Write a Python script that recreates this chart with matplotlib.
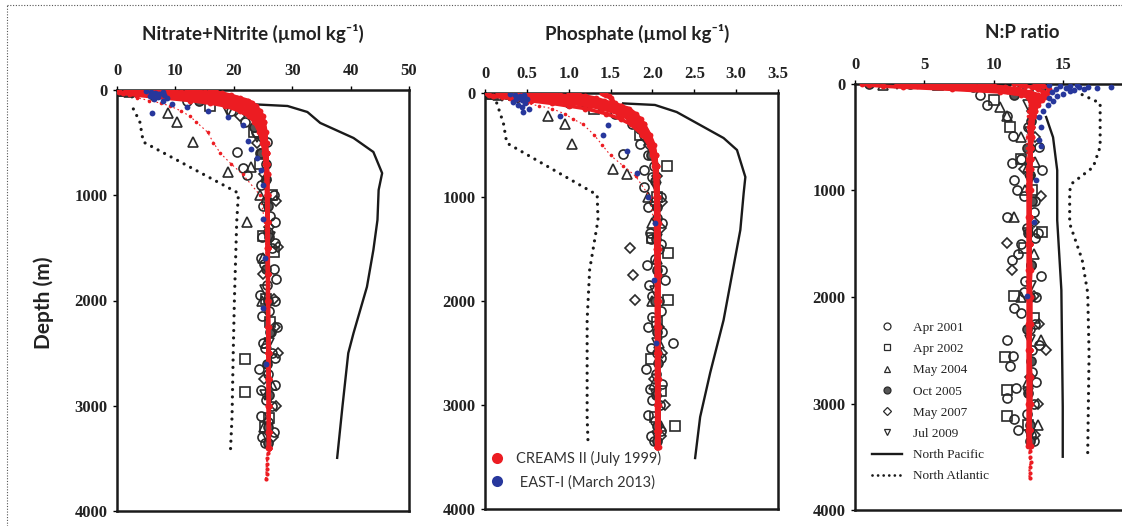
import numpy as np
import matplotlib.pyplot as plt
from matplotlib.lines import Line2D

# ---------------- data ----------------
# CREAMS II (July 1999) casts, sampled on a common depth grid
CR_DEPTH = [0, 10, 20, 30, 50, 75, 100, 125, 150, 200, 250, 300, 400, 500, 600,
            700, 800, 1000, 1250, 1500, 1750, 2000, 2250, 2500, 2750, 3000, 3250, 3400]
TAIL_DEPTH = [3450, 3500, 3550, 3600, 3650, 3700]

no3_casts = [
    [0.1, 0.2, 0.4, 1.0, 3.5, 8.0, 12.5, 16.0, 18.5, 21.0, 22.6, 23.5, 24.4, 24.9, 25.2,
     25.4, 25.5, 25.6, 25.7, 25.7, 25.8, 25.8, 25.8, 25.9, 25.9, 25.9, 25.9, 25.9],
    [1.5, 2.0, 3.0, 4.5, 7.5, 11.5, 15.0, 18.0, 20.0, 22.2, 23.4, 24.1, 24.8, 25.2, 25.4,
     25.5, 25.6, 25.7, 25.7, 25.8, 25.8, 25.8, 25.9, 25.9, 25.9, 25.9, 26.0, 26.0],
    [4.0, 5.0, 7.0, 9.5, 13.5, 17.0, 19.5, 21.0, 22.2, 23.4, 24.2, 24.7, 25.2, 25.4, 25.5,
     25.6, 25.7, 25.7, 25.8, 25.8, 25.8, 25.9, 25.9, 25.9, 26.0, 26.0, 26.0, 26.0],
    [8.0, 9.0, 11.0, 13.0, 16.0, 19.0, 21.0, 22.3, 23.0, 24.0, 24.6, 25.0, 25.3, 25.5, 25.6,
     25.7, 25.7, 25.8, 25.8, 25.8, 25.9, 25.9, 25.9, 26.0, 26.0, 26.0, 26.0, 26.0],
    [12.0, 13.5, 15.0, 16.5, 18.5, 20.5, 22.0, 23.0, 23.6, 24.3, 24.8, 25.1, 25.4, 25.5, 25.6,
     25.7, 25.8, 25.8, 25.8, 25.9, 25.9, 25.9, 25.9, 26.0, 26.0, 26.1, 26.0, 26.0],
    [16.0, 16.5, 17.0, 18.0, 19.5, 21.0, 22.5, 23.2, 23.8, 24.5, 25.0, 25.2, 25.5, 25.6, 25.7,
     25.7, 25.8, 25.8, 25.9, 25.9, 25.9, 25.9, 26.0, 26.0, 26.0, 26.0, 26.1, 26.1],
    [6.0, 7.0, 9.0, 11.5, 15.0, 18.0, 20.5, 21.8, 22.7, 23.8, 24.5, 24.9, 25.3, 25.5, 25.6,
     25.7, 25.7, 25.8, 25.8, 25.8, 25.9, 25.9, 25.9, 25.9, 26.0, 26.0, 26.0, 26.0],
    [2.5, 3.0, 4.5, 6.5, 10.0, 14.0, 17.5, 19.5, 21.0, 22.8, 23.8, 24.4, 25.0, 25.3, 25.5,
     25.6, 25.7, 25.7, 25.8, 25.8, 25.8, 25.9, 25.9, 25.9, 25.9, 26.0, 26.0, 26.0],
]
no3_low = [0.3, 0.5, 0.8, 1.2, 2.0, 3.5, 5.5, 7.5, 9.0, 11.0, 12.5, 13.5, 15.5, 16.5, 17.7,
           19.5, 21.5, 24.5, 25.3, 25.5, 25.6, 25.7, 25.7, 25.8, 25.8, 25.8, 25.9, 25.9]
no3_tail = [25.8, 25.7, 25.7, 25.6, 25.6, 25.5]

po4_casts = [
    [0.02, 0.03, 0.05, 0.10, 0.30, 0.55, 0.80, 1.00, 1.20, 1.45, 1.62, 1.74, 1.88, 1.96, 2.00,
     2.02, 2.03, 2.04, 2.04, 2.04, 2.05, 2.05, 2.05, 2.05, 2.05, 2.05, 2.05, 2.05],
    [0.15, 0.20, 0.25, 0.35, 0.55, 0.80, 1.05, 1.25, 1.40, 1.60, 1.72, 1.80, 1.92, 1.98, 2.01,
     2.03, 2.04, 2.04, 2.04, 2.05, 2.05, 2.05, 2.05, 2.05, 2.05, 2.06, 2.06, 2.06],
    [0.35, 0.40, 0.50, 0.65, 0.90, 1.15, 1.30, 1.45, 1.55, 1.70, 1.80, 1.86, 1.95, 2.00, 2.03,
     2.04, 2.05, 2.05, 2.05, 2.05, 2.06, 2.06, 2.06, 2.06, 2.06, 2.06, 2.06, 2.06],
    [0.70, 0.80, 0.90, 1.00, 1.15, 1.30, 1.45, 1.58, 1.66, 1.77, 1.85, 1.90, 1.97, 2.02, 2.04,
     2.05, 2.06, 2.06, 2.06, 2.06, 2.07, 2.07, 2.07, 2.07, 2.07, 2.07, 2.07, 2.07],
    [1.00, 1.05, 1.12, 1.20, 1.32, 1.42, 1.52, 1.62, 1.70, 1.78, 1.84, 1.88, 1.95, 2.00, 2.03,
     2.05, 2.06, 2.07, 2.07, 2.07, 2.07, 2.07, 2.07, 2.07, 2.07, 2.07, 2.07, 2.07],
    [1.40, 1.42, 1.45, 1.48, 1.50, 1.52, 1.55, 1.63, 1.72, 1.80, 1.86, 1.90, 1.96, 2.01, 2.04,
     2.05, 2.06, 2.07, 2.08, 2.08, 2.08, 2.08, 2.08, 2.08, 2.08, 2.08, 2.08, 2.08],
    [0.55, 0.60, 0.70, 0.82, 1.02, 1.22, 1.38, 1.52, 1.61, 1.74, 1.83, 1.88, 1.96, 2.01, 2.03,
     2.04, 2.05, 2.05, 2.06, 2.06, 2.06, 2.06, 2.06, 2.06, 2.06, 2.06, 2.06, 2.06],
    [0.25, 0.30, 0.38, 0.50, 0.72, 0.98, 1.18, 1.35, 1.48, 1.66, 1.77, 1.84, 1.94, 1.99, 2.02,
     2.03, 2.04, 2.04, 2.05, 2.05, 2.05, 2.05, 2.05, 2.06, 2.06, 2.06, 2.06, 2.06],
]
po4_low = [0.03, 0.05, 0.08, 0.12, 0.20, 0.35, 0.50, 0.65, 0.80, 0.95, 1.05, 1.17, 1.30, 1.40, 1.50,
           1.65, 1.80, 1.97, 2.02, 2.03, 2.04, 2.04, 2.05, 2.05, 2.05, 2.05, 2.05, 2.05]

np_casts = [
    [0.5, 1.0, 2.0, 3.5, 7.0, 10.5, 12.0, 12.5, 12.6, 12.7, 12.7, 12.7, 12.6, 12.6, 12.6,
     12.6, 12.6, 12.6, 12.6, 12.6, 12.6, 12.6, 12.6, 12.6, 12.6, 12.6, 12.6, 12.6],
    [3.0, 4.0, 5.5, 7.0, 9.5, 11.5, 12.4, 12.7, 12.8, 12.8, 12.8, 12.7, 12.7, 12.7, 12.7,
     12.7, 12.6, 12.6, 12.6, 12.6, 12.6, 12.7, 12.7, 12.6, 12.6, 12.6, 12.6, 12.7],
    [6.0, 7.0, 8.0, 9.0, 10.5, 12.0, 12.8, 13.0, 13.0, 12.9, 12.9, 12.8, 12.8, 12.7, 12.7,
     12.7, 12.7, 12.7, 12.6, 12.6, 12.6, 12.6, 12.6, 12.6, 12.7, 12.7, 12.6, 12.6],
    [9.0, 9.5, 10.0, 10.8, 11.8, 12.6, 13.2, 13.4, 13.3, 13.1, 13.0, 12.9, 12.8, 12.8, 12.7,
     12.7, 12.7, 12.6, 12.6, 12.6, 12.7, 12.6, 12.6, 12.6, 12.6, 12.6, 12.6, 12.6],
    [11.5, 12.0, 12.3, 12.8, 13.2, 13.6, 13.8, 13.7, 13.5, 13.2, 13.0, 12.9, 12.8, 12.8, 12.7,
     12.7, 12.6, 12.6, 12.6, 12.6, 12.6, 12.6, 12.6, 12.6, 12.6, 12.6, 12.6, 12.6],
    [13.0, 13.3, 13.6, 13.9, 14.0, 13.9, 13.6, 13.4, 13.2, 13.0, 12.9, 12.8, 12.7, 12.7, 12.6,
     12.6, 12.5, 12.5, 12.5, 12.5, 12.5, 12.5, 12.5, 12.5, 12.5, 12.5, 12.5, 12.5],
    [4.5, 5.5, 6.5, 8.0, 10.0, 11.8, 12.6, 12.9, 12.9, 12.8, 12.8, 12.7, 12.7, 12.7, 12.6,
     12.6, 12.6, 12.6, 12.6, 12.6, 12.6, 12.6, 12.6, 12.6, 12.6, 12.6, 12.6, 12.6],
    [7.5, 8.2, 9.0, 10.0, 11.2, 12.3, 13.0, 13.2, 13.1, 13.0, 12.9, 12.8, 12.7, 12.7, 12.7,
     12.6, 12.6, 12.6, 12.6, 12.6, 12.6, 12.6, 12.6, 12.6, 12.6, 12.6, 12.6, 12.6],
]
np_low = [1.5, 2.0, 2.8, 4.5, 8.0, 11.0, 12.2, 12.5, 12.6, 12.6, 12.5, 12.5, 12.5, 12.4, 12.4,
          12.4, 12.4, 12.4, 12.5, 12.5, 12.5, 12.5, 12.5, 12.5, 12.5, 12.5, 12.5, 12.5]
np_tail = [12.6, 12.6, 12.7, 12.6, 12.6, 12.6]

# EAST-I (March 2013)
east_no3_depth = [5, 15, 25, 35, 45, 55, 65, 75, 90, 100, 220, 130, 160, 200, 260, 330,
                  480, 560, 650, 760, 900, 1230, 1600, 2070, 2600, 20, 40, 60]
east_no3 = [5.0, 5.8, 6.5, 7.2, 8.0, 6.0, 7.0, 8.5, 6.3, 7.8, 6.0, 9.5, 12.0, 15.5, 19.0, 21.5,
            22.5, 23.0, 24.0, 24.6, 25.0, 25.0, 25.3, 25.0, 25.5, 7.8, 6.8, 5.6]
east_po4_depth = [5, 15, 25, 35, 45, 55, 70, 85, 100, 120, 150, 185, 220, 308, 403, 560,
                  770, 1000, 1250, 1800, 2400, 20, 60, 130]
east_po4 = [0.30, 0.36, 0.42, 0.47, 0.38, 0.50, 0.44, 0.34, 0.48, 0.40, 0.52, 0.45, 0.90, 1.47,
            1.41, 1.70, 1.82, 1.95, 2.03, 2.02, 2.04, 0.46, 0.37, 0.44]
east_np_depth = [10, 15, 20, 25, 30, 40, 50, 60, 75, 90, 110, 130, 160, 200, 250, 310, 400,
                 530, 580, 900, 1300, 1990, 28, 35, 12, 45, 70]
east_np = [14.0, 14.8, 15.5, 16.2, 16.8, 15.2, 14.5, 15.8, 14.2, 15.0, 14.6, 14.0, 14.3, 13.9,
           13.6, 13.3, 13.4, 13.3, 13.4, 13.1, 12.9, 12.4, 18.5, 17.5, 16.0, 16.5, 15.5]

# historical cruises (same bottle depths in every panel)
apr2001_depth = [0, 10, 30, 100, 200, 300, 490, 590, 740, 810, 900, 1000, 1100, 1250, 1400,
                 1500, 1650, 1800, 1950, 2100, 2250, 2400, 2500, 2650, 2800, 2950, 3100, 3250, 3350,
                 1050, 1200, 1350, 1450, 1600, 1700, 1850, 2000, 2150, 2300, 2450, 2550, 2700,
                 2850, 3000, 3150, 3300, 600, 700, 400]
apr2001_no3 = [0.5, 3.0, 8.5, 12.0, 19.5, 22.0, 25.7, 20.6, 21.6, 22.3, 24.6, 26.8, 25.0, 27.0,
               24.8, 26.5, 25.2, 27.2, 24.5, 26.0, 27.4, 25.0, 26.6, 24.3, 27.0, 25.5, 24.7, 26.8, 25.3,
               25.5, 26.2, 25.8, 27.0, 24.6, 26.9, 25.6, 27.1, 24.8, 26.4, 25.3, 27.0, 25.8,
               24.6, 26.5, 25.9, 24.8, 24.5, 25.5, 23.8]
apr2001_po4 = [0.05, 0.25, 0.75, 1.00, 1.55, 1.75, 1.85, 1.65, 1.90, 2.00, 1.90, 2.10, 1.95, 2.12,
               1.98, 2.08, 1.93, 2.15, 2.00, 2.10, 1.95, 2.25, 2.05, 1.92, 2.12, 2.00, 1.95, 2.10, 2.02,
               2.02, 2.06, 1.97, 2.10, 2.03, 2.12, 1.96, 2.08, 2.00, 2.11, 1.98, 2.10, 2.04,
               1.97, 2.09, 2.03, 1.98, 1.95, 2.02, 1.90]
apr2001_np = [4.0, 9.0, 8.5, 9.0, 9.5, 11.0, 11.4, 13.3, 11.3, 13.5, 11.5, 11.7, 13.0, 11.0,
              13.2, 12.0, 11.3, 13.4, 12.2, 11.5, 13.0, 11.0, 12.8, 11.2, 13.1, 11.0, 12.4, 11.8, 12.9,
              12.2, 12.9, 12.4, 13.0, 11.8, 12.7, 12.3, 13.1, 12.0, 12.6, 13.3, 11.4, 12.8,
              11.6, 12.9, 11.5, 12.7, 12.6, 12.0, 12.5]

apr2002_depth = [5, 20, 150, 400, 700, 1000, 1390, 1540, 1990, 2200, 2560, 2870, 3120, 3200]
apr2002_no3 = [1.0, 6.0, 16.0, 23.5, 24.5, 26.5, 25.0, 26.8, 25.5, 26.2, 22.0, 22.0, 26.0, 25.3]
apr2002_po4 = [0.10, 0.35, 1.30, 1.85, 2.17, 2.05, 2.00, 2.19, 2.19, 2.05, 1.98, 2.10, 2.03, 2.27]
apr2002_np = [6.0, 12.5, 10.0, 11.2, 12.0, 12.8, 13.5, 12.2, 11.5, 12.9, 10.8, 11.0, 11.0, 12.5]

may2004_depth = [5, 15, 220, 300, 495, 730, 780, 1000, 1250, 1600, 2000, 2400, 2800, 3200]
may2004_no3 = [0.3, 2.0, 8.7, 10.3, 13.0, 23.0, 19.0, 24.5, 22.3, 25.0, 24.8, 25.5, 26.5, 25.2]
may2004_po4 = [0.03, 0.15, 0.75, 0.95, 1.04, 1.53, 1.70, 1.95, 2.00, 2.05, 2.00, 2.08, 2.02, 2.10]
may2004_np = [2.0, 11.0, 10.5, 11.0, 12.0, 13.0, 12.5, 12.3, 11.5, 12.9, 12.0, 13.4, 12.5, 13.2]

oct2005_depth = [0, 20, 100, 350, 600, 850, 1100, 1400, 1700, 2000, 2300, 2600, 2900, 3200, 3350]
oct2005_no3 = [0.2, 10.0, 14.0, 23.5, 24.7, 25.5, 25.8, 26.0, 25.5, 25.9, 26.2, 25.6, 26.1, 25.8, 25.9]
oct2005_po4 = [0.02, 0.60, 1.20, 1.85, 1.98, 2.03, 2.05, 2.04, 2.06, 2.03, 2.05, 2.07, 2.04, 2.05, 2.06]
oct2005_np = [1.0, 13.5, 11.5, 12.7, 12.4, 12.6, 12.8, 12.5, 12.7, 12.6, 12.4, 12.7, 12.5, 12.6, 12.6]

may2007_depth = [10, 50, 250, 500, 800, 1050, 1300, 1490, 1750, 1990, 2250, 2500, 2750, 3000, 3300]
may2007_no3 = [4.0, 6.0, 21.0, 24.0, 25.2, 27.3, 26.0, 27.5, 25.0, 26.8, 27.0, 27.6, 25.2, 27.3, 26.7]
may2007_po4 = [0.30, 0.40, 1.75, 1.96, 2.05, 2.12, 2.10, 1.73, 1.77, 1.79, 2.08, 2.12, 2.02, 2.15, 2.10]
may2007_np = [7.5, 12.0, 12.8, 13.0, 12.2, 13.4, 12.9, 11.0, 11.3, 12.9, 13.3, 13.8, 12.6, 13.2, 13.0]

jul2009_depth = [0, 30, 200, 450, 900, 1400, 1900, 2400, 2900, 3300]
jul2009_no3 = [0.1, 2.5, 19.0, 24.0, 25.5, 26.2, 25.4, 26.0, 25.3, 25.7]
jul2009_po4 = [0.02, 0.20, 1.60, 1.93, 2.04, 2.05, 2.03, 2.06, 2.04, 2.05]
jul2009_np = [3.0, 11.0, 12.5, 12.6, 12.6, 12.5, 12.7, 12.6, 12.5, 12.6]

# reference profiles
npac_no3_depth = [133, 152, 209, 313, 456, 589, 790, 950, 1235, 1520, 1870, 2310, 2500, 3010, 3495]
npac_no3 = [22.3, 29.2, 32.6, 34.8, 40.5, 43.9, 45.4, 44.8, 44.6, 43.9, 42.8, 40.5, 39.6, 38.6, 37.7]
natl_no3_depth = [180, 300, 494, 980, 1250, 2000, 2500, 3100, 3460]
natl_no3 = [2.8, 3.9, 4.5, 20.8, 20.5, 20.1, 19.9, 19.7, 19.4]

npac_po4_depth = [100, 115, 183, 290, 433, 548, 808, 962, 1317, 1490, 2183, 2690, 3115, 3510]
npac_po4 = [1.65, 2.03, 2.29, 2.53, 2.85, 3.01, 3.11, 3.09, 3.05, 3.01, 2.85, 2.69, 2.57, 2.51]
natl_po4_depth = [96, 290, 481, 980, 1220, 1700, 2183, 3115, 3345]
natl_po4 = [0.14, 0.22, 0.26, 1.34, 1.35, 1.25, 1.22, 1.22, 1.23]

npac_np_depth = [310, 500, 810, 1280, 1935, 3030, 3500]
npac_np = [13.8, 14.3, 14.6, 14.6, 14.9, 15.0, 15.0]
natl_np_depth = [100, 180, 590, 780, 930, 1000, 1310, 1650, 1960, 2530, 3480]
natl_np = [16.4, 17.7, 17.7, 17.2, 15.7, 15.5, 15.5, 16.4, 16.8, 16.9, 16.8]

cruise_labels = ['Apr 2001', 'Apr 2002', 'May 2004', 'Oct 2005', 'May 2007', 'Jul 2009']

# ---------------- styling ----------------
RED = '#ec1c22'
BLUE = '#27379c'
EDGE = '#2a2a2a'
SERIF = 'Liberation Serif'
SANS = ['Lato', 'DejaVu Sans']

cruise_styles = [
    dict(marker='o', mfc='none'),
    dict(marker='s', mfc='none'),
    dict(marker='^', mfc='none'),
    dict(marker='o', mfc='#555555'),
    dict(marker='D', mfc='none'),
    dict(marker='v', mfc='none'),
]

W, H = 1122, 526
fig = plt.figure(figsize=(W / 100, H / 100), dpi=100)


def px_axes(left, right, top, bottom):
    return fig.add_axes([left / W, 1 - bottom / H, (right - left) / W, (bottom - top) / H])


def style_axes(ax, xmax, xticks, xlabels):
    ax.set_xlim(0, xmax)
    ax.set_ylim(4000, 0)
    ax.xaxis.tick_top()
    ax.set_xticks(xticks)
    ax.set_xticklabels(xlabels)
    ax.set_yticks([0, 1000, 2000, 3000, 4000])
    ax.set_yticklabels(['0', '1000', '2000', '3000', '4000'])
    ax.tick_params(axis='x', direction='out', length=3, width=1, pad=5, labelsize=12)
    ax.tick_params(axis='y', direction='out', length=3, width=1, pad=4, labelsize=12)
    for lbl in ax.get_xticklabels() + ax.get_yticklabels():
        lbl.set_fontfamily(SERIF)
        lbl.set_fontweight('bold')
        lbl.set_color('#222222')
    for sp in ax.spines.values():
        sp.set_linewidth(1.8)
        sp.set_color('#1a1a1a')


def draw_panel(ax, casts, low, tail, east_d, east_v, hist, npac, natl):
    # reference profiles
    ax.plot(npac[1], npac[0], color='#1a1a1a', lw=1.7, zorder=1.5)
    ax.plot(natl[1], natl[0], color='#1a1a1a', lw=2.3, linestyle=(0, (0.01, 2.3)),
            dash_capstyle='round', zorder=1.5)
    # historical cruises
    for (d, v), st in zip(hist, cruise_styles):
        ms = 5.5 if st['marker'] == 'D' else 6.5
        ax.plot(v, d, linestyle='none', marker=st['marker'], mfc=st['mfc'], mec=EDGE,
                mew=1.2, ms=ms, zorder=2)
    # CREAMS II
    for c in casts:
        ax.plot(c, CR_DEPTH, color=RED, lw=2.6, marker='o', ms=4.2, mec='none', zorder=3)
    ax.plot(low, CR_DEPTH, color=RED, lw=0.8, linestyle=(0, (1.5, 2.5)), marker='o', ms=2.6,
            mec='none', zorder=3)
    if tail is not None:
        ax.plot([casts[0][-1]] + tail, [CR_DEPTH[-1]] + TAIL_DEPTH, color=RED, lw=1.6,
                linestyle=':', marker='o', ms=3.0, mec='none', zorder=3)
    # EAST-I
    ax.plot(east_v, east_d, linestyle='none', marker='o', ms=4.2, color=BLUE, mec='none',
            zorder=4)


ax1 = px_axes(117, 409, 90, 511)
ax2 = px_axes(485, 778, 93, 509)
ax3 = px_axes(855, 1132, 84, 510)

draw_panel(ax1, no3_casts, no3_low, no3_tail, east_no3_depth, east_no3,
           [(apr2001_depth, apr2001_no3), (apr2002_depth, apr2002_no3),
            (may2004_depth, may2004_no3), (oct2005_depth, oct2005_no3),
            (may2007_depth, may2007_no3), (jul2009_depth, jul2009_no3)],
           (npac_no3_depth, npac_no3), (natl_no3_depth, natl_no3))
draw_panel(ax2, po4_casts, po4_low, None, east_po4_depth, east_po4,
           [(apr2001_depth, apr2001_po4), (apr2002_depth, apr2002_po4),
            (may2004_depth, may2004_po4), (oct2005_depth, oct2005_po4),
            (may2007_depth, may2007_po4), (jul2009_depth, jul2009_po4)],
           (npac_po4_depth, npac_po4), (natl_po4_depth, natl_po4))
draw_panel(ax3, np_casts, np_low, np_tail, east_np_depth, east_np,
           [(apr2001_depth, apr2001_np), (apr2002_depth, apr2002_np),
            (may2004_depth, may2004_np), (oct2005_depth, oct2005_np),
            (may2007_depth, may2007_np), (jul2009_depth, jul2009_np)],
           (npac_np_depth, npac_np), (natl_np_depth, natl_np))

style_axes(ax1, 50, [0, 10, 20, 30, 40, 50], ['0', '10', '20', '30', '40', '50'])
style_axes(ax2, 3.5, [0, 0.5, 1.0, 1.5, 2.0, 2.5, 3.0, 3.5],
           ['0', '0.5', '1.0', '1.5', '2.0', '2.5', '3.0', '3.5'])
# the 20 label of the N:P axis falls outside the picture
style_axes(ax3, 20, [0, 5, 10, 15, 20], ['0', '5', '10', '15', ''])

# titles and depth label
fig.text(253 / W, 1 - 33 / H, 'Nitrate+Nitrite (\u00b5mol kg\u207b\u00b9)', ha='center',
         va='center', fontsize=13.5, fontweight='bold', family=SANS, color='#222222')
fig.text(637 / W, 1 - 33 / H, 'Phosphate (\u00b5mol kg\u207b\u00b9)', ha='center',
         va='center', fontsize=13.5, fontweight='bold', family=SANS, color='#222222')
fig.text(1022 / W, 1 - 33 / H, 'N:P ratio', ha='center', va='center', fontsize=13.5,
         fontweight='bold', family=SANS, color='#222222')
fig.text(44 / W, 1 - 303 / H, 'Depth (m)', rotation=90, ha='center', va='center',
         fontsize=15, fontweight='bold', family=SANS, color='#222222')

# legend: cruises (panel 3)
hist_handles = []
for lab, st in zip(cruise_labels, cruise_styles):
    ms = 4.5 if st['marker'] == 'D' else 5.0
    hist_handles.append(Line2D([], [], linestyle='none', marker=st['marker'], mfc=st['mfc'],
                               mec=EDGE, mew=0.9, ms=ms, label=lab))
hist_handles.append(Line2D([], [], color='#1a1a1a', lw=1.7, label='North Pacific'))
hist_handles.append(Line2D([], [], color='#1a1a1a', lw=2.0, linestyle=(0, (0.01, 2.0)),
                           dash_capstyle='round', label='North Atlantic'))
leg3 = ax3.legend(handles=hist_handles, loc='center left',
                  bbox_to_anchor=(872 / W, 1 - 402 / H), bbox_transform=fig.transFigure,
                  frameon=False, borderpad=0, borderaxespad=0, handlelength=2.3,
                  handletextpad=0.8, labelspacing=0.68,
                  prop={'family': SERIF, 'size': 9.5})
for t in leg3.get_texts():
    t.set_color('#222222')

# legend: CREAMS II / EAST-I (panel 2)
ship_handles = [
    Line2D([], [], linestyle='none', marker='o', ms=8, color=RED, mec='none',
           label='CREAMS II (July 1999)'),
    Line2D([], [], linestyle='none', marker='o', ms=8, color=BLUE, mec='none',
           label=' EAST-I (March 2013)'),
]
leg2 = ax2.legend(handles=ship_handles, loc='center left',
                  bbox_to_anchor=(490 / W, 1 - 470.5 / H), bbox_transform=fig.transFigure,
                  frameon=False, borderpad=0, borderaxespad=0, handlelength=1.0,
                  handletextpad=0.8, labelspacing=0.6,
                  prop={'family': SANS, 'size': 10.5})
for t in leg2.get_texts():
    t.set_color('#333333')

# dotted frame around the figure
fig.add_artist(Line2D([7 / W, 7 / W], [0, 1 - 5 / H], transform=fig.transFigure,
                      color='#555555', lw=0.8, linestyle=(0, (1, 1.5))))
fig.add_artist(Line2D([7 / W, 1], [1 - 5 / H, 1 - 5 / H], transform=fig.transFigure,
                      color='#555555', lw=0.8, linestyle=(0, (1, 1.5))))

fig.savefig('out.png', dpi=100)
